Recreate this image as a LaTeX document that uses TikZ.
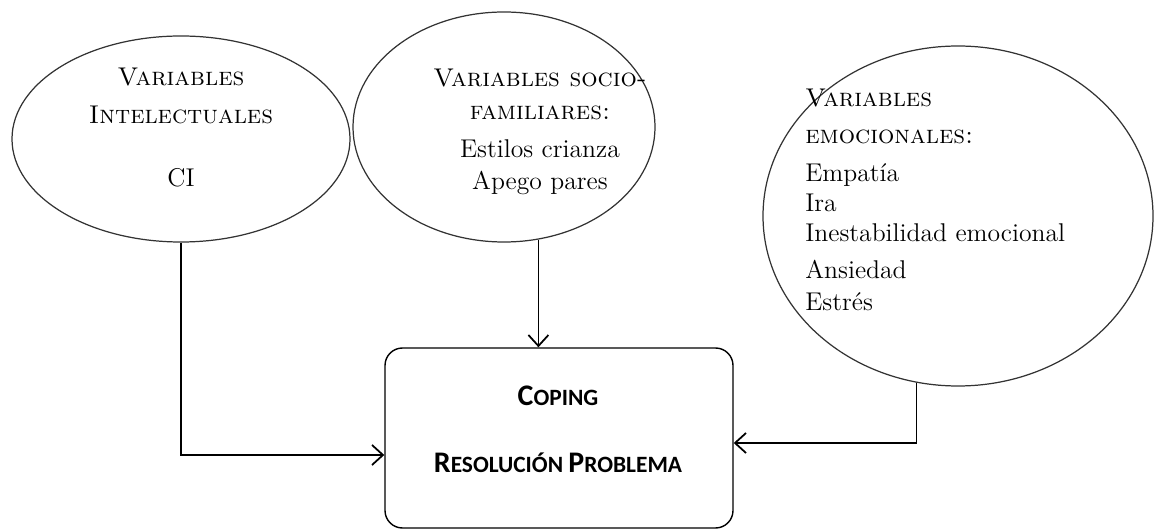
\documentclass[tikz,border=0pt]{standalone}
\usepackage{fontspec}
\newfontfamily\calibri{Carlito}
\usetikzlibrary{shapes.geometric,arrows.meta,positioning,calc}
\tikzset{every node/.append style={align=center}}
\tikzset{
  varellipse/.style={draw=black!80, ellipse, line width=0.7pt, inner sep=0pt},
  vartext/.style={font=\fontsize{14.6}{17}\selectfont, inner sep=0pt},
  outcomebox/.style={draw, rounded corners=0.35cm, line width=0.8pt, minimum width=6.96cm, minimum height=3.6cm},
  outcometext/.style={font=\calibri\bfseries\fontsize{13.3}{18}\selectfont, inner sep=0pt},
  link/.style={line width=1pt, -{Straight Barb[length=2.2mm,width=4mm]}}
}
\newcommand{\fakesc}[2]{{\fontsize{17}{18}\selectfont #1}#2}

\begin{document}
\begin{tikzpicture}
    \useasboundingbox (0,0) rectangle (23.1,10.62);

    % Variables intelectuales
    \node[varellipse, minimum width=6.76cm, minimum height=4.12cm] (intel) at (3.62,7.84) {};
    \node[vartext] (intelT) at (3.62,8.07) {\textsc{Variables}\\[4.6pt]\textsc{Intelectuales}\\[19pt]CI};

    % Variables socio-familiares
    \node[varellipse, minimum width=6.04cm, minimum height=4.6cm] (famil) at (10.08,8.08) {};
    \node[vartext] (familT) at (10.8,7.99) {\textsc{Variables socio-}\\[2pt]\textsc{familiares:}\\[4.6pt]Estilos crianza\\[1pt]Apego pares};

    % Variables emocionales
    \node[varellipse, minimum width=7.8cm, minimum height=6.8cm] (emoc) at (19.16,6.30) {};
    \node[vartext, align=left, anchor=west] (emocT) at (16.1,6.63) {\textsc{Variables}\\[4.6pt]\textsc{emocionales:}\\[4.6pt]Empatía\\Ira\\Inestabilidad emocional\\[4pt]Ansiedad\\[1pt]Estrés};

    % Coping
    \node[outcomebox] (coping) at (11.18,1.86) {};
    \node[outcometext] (copingT) at (11.16,2.04) {\fakesc{C}{OPING}\\[20pt]\fakesc{R}{ESOLUCIÓN} \fakesc{P}{ROBLEMA}};

    % Connectors
    \draw[link] (intel.south) |- ([yshift=-0.34cm]coping.west);
    \draw[link] (famil.-73) -- (famil.-73 |- coping.north);
    \draw[link] (emoc.-104.5) |- ([yshift=-0.1cm]coping.east);
\end{tikzpicture}
\end{document}
